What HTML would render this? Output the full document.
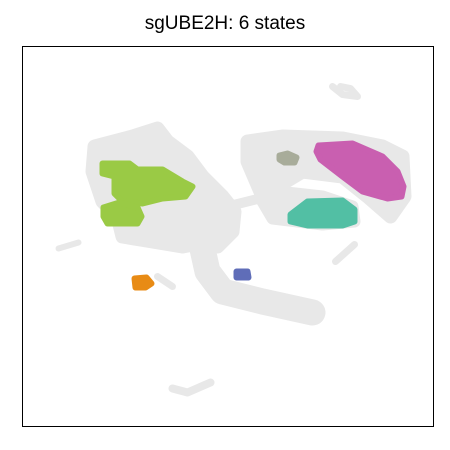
<!DOCTYPE html>
<html><head><meta charset="utf-8"><style>
html,body{margin:0;padding:0;background:#fff;}
svg{display:block;font-family:"Liberation Sans",sans-serif;}
</style></head><body>
<svg id="c" width="450" height="450">
<text x="225" y="29" text-anchor="middle" font-size="19" fill="#000">sgUBE2H: 6 states</text>
<g id="bg"></g>
<g id="st"></g>
<rect x="22.5" y="46.5" width="411" height="380" fill="none" stroke="#000" stroke-width="1"/>
</svg>
<script>
// embedding coordinates (UMAP units, 0..412 x 0..381)
const bgMain=[[72,100],[110,90],[135,82],[145,95],[165,110],[180,130],[200,150],[212,165],[210,185],[195,200],[185,195],[160,200],[130,195],[100,190],[95,170],[80,155],[70,125]];
const bgRight=[[225,95],[260,90],[320,92],[360,100],[380,110],[382,150],[368,170],[345,150],[320,130],[280,125],[255,140],[240,150],[225,115]];
const bgMid=[[240,155],[255,145],[300,150],[330,160],[332,175],[300,178],[250,172]];
const bgArm=[[175,180],[185,225],[200,245],[240,255],[290,266]];
const bgBridge=[[205,160],[245,150]];
const bgRing=[[310,40],[320,48],[335,50],[328,42],[318,40]];
const bgLeftLine=[[36,202],[56,196]];
const bgRightLine=[[313,215],[332,198]];
const bgBottom=[[150,342],[165,346],[188,336]];
const bgOrange=[[135,230],[150,240]];
const bgShapes=[{p:bgMain,w:14,c:1},{p:bgRight,w:14,c:1},{p:bgMid,w:12,c:1},{p:bgArm,w:26,c:0},{p:bgBridge,w:10,c:0},{p:bgRing,w:7,c:0},{p:bgLeftLine,w:6,c:0},{p:bgRightLine,w:7,c:0},{p:bgBottom,w:8,c:0},{p:bgOrange,w:7,c:0}];

const stateNames=["green-a","green-b","magenta","teal","olive","orange","blue"];
const stateColors=["#9aca45","#9aca45","#c95fb0","#52bfa4","#a8ac9a","#e88b15","#5f6db8"];
const stateGreenA=[[80,117],[107,117],[115,123],[140,123],[160,135],[170,140],[163,150],[140,152],[120,157],[100,155],[92,147],[92,130],[80,127]];
const stateGreenB=[[81,161],[97,156],[115,161],[119,170],[115,177],[85,177],[81,170]];
const stateMagenta=[[296,99],[330,97],[360,110],[375,125],[381,140],[379,150],[365,152],[340,145],[320,130],[298,113],[294,105]];
const stateTeal=[[268,168],[285,155],[320,154],[332,163],[332,175],[320,179],[285,179],[268,175]];
const stateOlive=[[257,109],[265,107],[274,111],[272,116],[262,116],[257,113]];
const stateOrange=[[112,232],[124,231],[129,237],[123,241],[113,241]];
const stateBlue=[[214,225],[225,225],[226,231],[214,231]];
const statePolys=[stateGreenA,stateGreenB,stateMagenta,stateTeal,stateOlive,stateOrange,stateBlue];

const X0=22.5,Y0=46.5;
const sx=v=>X0+v, sy=v=>Y0+v;
const NS="http://www.w3.org/2000/svg";
function pts(a){return a.map(q=>sx(q[0])+","+sy(q[1])).join(" ");}
const bg=document.getElementById("bg");
bgShapes.forEach((s,i)=>{
  const el=document.createElementNS(NS,s.c?"polygon":"polyline");
  el.setAttribute("points",pts(s.p));
  el.setAttribute("fill",s.c?"#e8e8e8":"none");
  el.setAttribute("stroke","#e8e8e8");
  el.setAttribute("stroke-width",s.w);
  el.setAttribute("stroke-linejoin","round");
  el.setAttribute("stroke-linecap","round");
  
  
  bg.appendChild(el);
});
const st=document.getElementById("st");
statePolys.forEach((p,i)=>{
  const el=document.createElementNS(NS,"polygon");
  el.setAttribute("points",pts(p));
  el.setAttribute("fill",stateColors[i]);
  el.setAttribute("stroke",stateColors[i]);
  el.setAttribute("stroke-width",6);
  el.setAttribute("stroke-linejoin","round");
  
  
  st.appendChild(el);
});
</script>
</body></html>
